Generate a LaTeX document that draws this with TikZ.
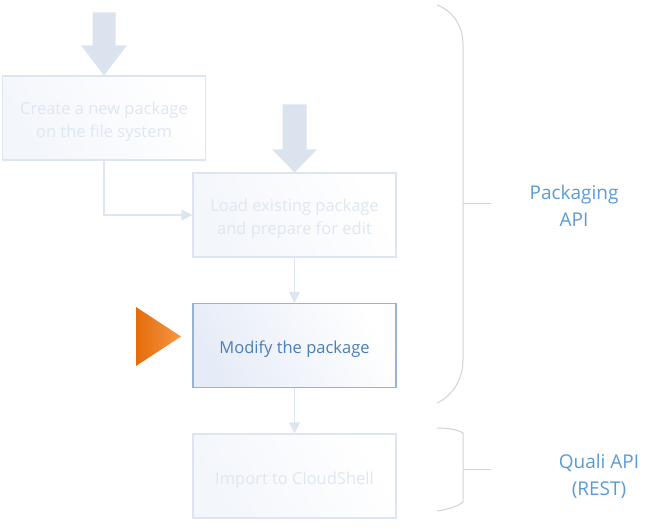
\documentclass[tikz,border=0pt]{standalone}
\usepackage{fontspec}
\setmainfont{Open Sans}
\usetikzlibrary{arrows.meta}

\definecolor{faintline}{HTML}{DCE5F1}
\definecolor{fainttext}{HTML}{DFE7F2}
\definecolor{fainttint}{HTML}{F3F6FB}
\definecolor{bigarrowfill}{HTML}{DAE3EE}
\definecolor{activeline}{HTML}{95B3D7}
\definecolor{activetint}{HTML}{E6ECF7}
\definecolor{activetext}{HTML}{4A7EBB}
\definecolor{labelblue}{HTML}{5B9BD5}
\definecolor{bracegray}{HTML}{D2D2D2}
\definecolor{orangedark}{HTML}{E46C0A}
\definecolor{orangelight}{HTML}{F79646}

% strut that pushes the text a little down in its box
\newcommand{\lowerstrut}{\rule{0pt}{20pt}}

\tikzset{
  stepbox/.style={draw=faintline, line width=1.2pt, left color=fainttint, right color=white,
    shading angle=120, minimum width=203pt, minimum height=84pt, align=center,
    text=fainttext, font=\fontsize{16.5}{23}\selectfont},
  activebox/.style={stepbox, draw=activeline, left color=activetint, right color=white,
    shading angle=120, text=activetext},
  conn/.style={faintline, line width=1.3pt, -{Triangle[width=11pt,length=11pt]}},
  bigarrow/.style={fill=bigarrowfill},
  brace/.style={bracegray, line width=1pt},
  apilabel/.style={text=labelblue, align=center, font=\fontsize{19}{27}\selectfont}
}

\begin{document}
\begin{tikzpicture}[x=1pt,y=-1pt]
\useasboundingbox (0,0) rectangle (669,531);

% Steps
\node[stepbox] (create) at (104,118) {\lowerstrut Create a new package\\on the file system};
\node[stepbox] (load) at (294.5,215) {\lowerstrut Load existing package\\and prepare for edit};
\node[activebox] (modify) at (294.5,345.5) {\lowerstrut Modify the package};
\node[stepbox] (import) at (294.5,476) {\lowerstrut Import to CloudShell};

% Entry arrows
\fill[bigarrow] (create.north) -- ++(-23,-30) -- ++(11.5,0) -- ++(0,-33) -- ++(23,0)
  -- ++(0,33) -- ++(11.5,0) -- cycle;
\fill[bigarrow] (load.north) -- ++(-22.5,-23) -- ++(10.5,0) -- ++(0,-45) -- ++(24,0)
  -- ++(0,45) -- ++(10.5,0) -- cycle;

% Connectors
\draw[conn] (create.south) |- (load.west);
\draw[conn] (load.south) -- (modify.north);
\draw[conn] (modify.south) -- (import.north);

% Current step marker
\shade[left color=orangedark, right color=orangelight] (136,307) -- (181,336.5) -- (136,366) -- cycle;

% Braces
\draw[brace] (437,5) .. controls (455,12) and (463,28) .. (463,45) -- (463,360)
  .. controls (463,380) and (452,396) .. (437,403);
\draw[brace] (463,203) -- (491,203);
\draw[brace] (437,428) .. controls (450,428) and (458,430) .. (463,433) -- (463,502)
  .. controls (458,506) and (450,509) .. (437,511);
\draw[brace] (463,469) -- (491,469);

% API labels
\node[apilabel] (packapi) at (574,206) {Packaging\\API};
\node[apilabel] (qualiapi) at (599,476) {Quali API\\(REST)};
\end{tikzpicture}
\end{document}
